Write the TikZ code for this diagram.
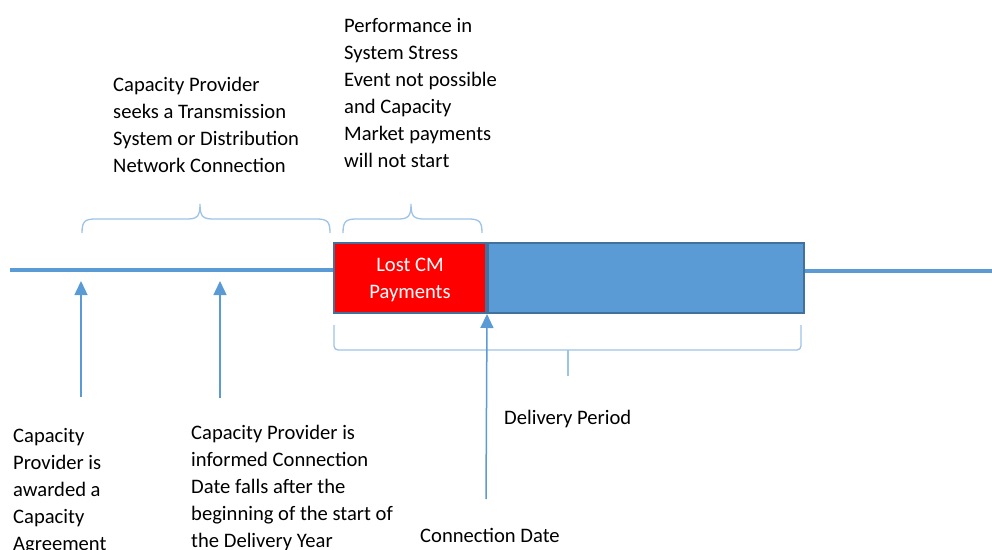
\documentclass[tikz,border=0pt]{standalone}
\usepackage{fontspec}
\setmainfont{Carlito}
\usetikzlibrary{arrows.meta,positioning}

\definecolor{lineblue}{HTML}{5B9BD5}
\definecolor{edgeblue}{HTML}{41719C}
\definecolor{braceblue}{HTML}{9DC3E6}

% curly brace over the timeline: left end, right end, tip
\newcommand{\topbrace}[3]{
    \draw[bracket] (#1,233) .. controls (#1,221) and (#1+3,219) .. (#1+14,219)
        -- (#3-14,219) .. controls (#3-3,219) and (#3,217) .. (#3,204)
        .. controls (#3,217) and (#3+3,219) .. (#3+14,219)
        -- (#2-14,219) .. controls (#2-3,219) and (#2,221) .. (#2,233);
}

\tikzset{x=1pt, y=-1pt,
    every node/.append style={font=\fontsize{20.6pt}{27pt}\selectfont},
    timeline/.style={lineblue, line width=3.5pt},
    bracket/.style={braceblue, line width=1.3pt},
    pointer/.style={lineblue, line width=1.5pt, -{Triangle[width=13pt,length=14pt]}},
    caption/.style={anchor=north west, inner sep=0pt, align=left},
    period box/.style={draw=edgeblue, line width=2pt, minimum height=70pt, inner sep=0pt}}

\begin{document}
\begin{tikzpicture}
    \useasboundingbox (0,0) rectangle (992,549);

    % boxes on the timeline
    \node[period box, fill=red, minimum width=152pt] (lost) at (410,278) {};
    \node[period box, fill=lineblue, minimum width=316pt, right=0pt of lost] (period) {};
    \node[text=white, align=center, yshift=-2pt] (lostlabel) at (lost.center) {Lost CM\\Payments};
    \coordinate (tstart) at (10,270);
    \coordinate (tend) at (992,271);
    \draw[timeline] (tstart) -- (tstart -| lost.west);
    \draw[timeline] (tend -| period.east) -- (tend);

    % braces above, bracket below
    \topbrace{82}{330}{200}
    \topbrace{343}{482}{411}
    \draw[bracket, rounded corners=4pt] (334,325) -- (334,350) -- (801,350) -- (801,325);
    \coordinate (bracketmid) at (568,350);
    \coordinate (bracketend) at (568,376);
    \draw[bracket] (bracketmid) -- (bracketend);

    % texts
    \node[caption] (seeks) at (113,77) {Capacity Provider\\seeks a Transmission\\System or Distribution\\Network Connection};
    \node[caption] (stress) at (344,18) {Performance in\\System Stress\\Event not possible\\and Capacity\\Market payments\\will not start};
    \node[caption] (awarded) at (13,428) {Capacity\\Provider is\\awarded a\\Capacity\\Agreement};
    \node[caption] (informed) at (191,425) {Capacity Provider is\\informed Connection\\Date falls after the\\beginning of the start of\\the Delivery Year};
    \node[caption] (delivery) at (504,410) {Delivery Period};
    \node[caption] (conndate) at (420,528) {Connection Date};

    % arrows up to the timeline
    \coordinate (awardtail) at (81,397);
    \coordinate (awardhead) at (81,281);
    \coordinate (informtail) at (220,398);
    \coordinate (informhead) at (220,281);
    \coordinate (conntail) at (486,499);
    \draw[pointer] (awardtail) -- (awardhead);
    \draw[pointer] (informtail) -- (informhead);
    \draw[pointer] (conntail) -- (lost.south east);
\end{tikzpicture}
\end{document}
